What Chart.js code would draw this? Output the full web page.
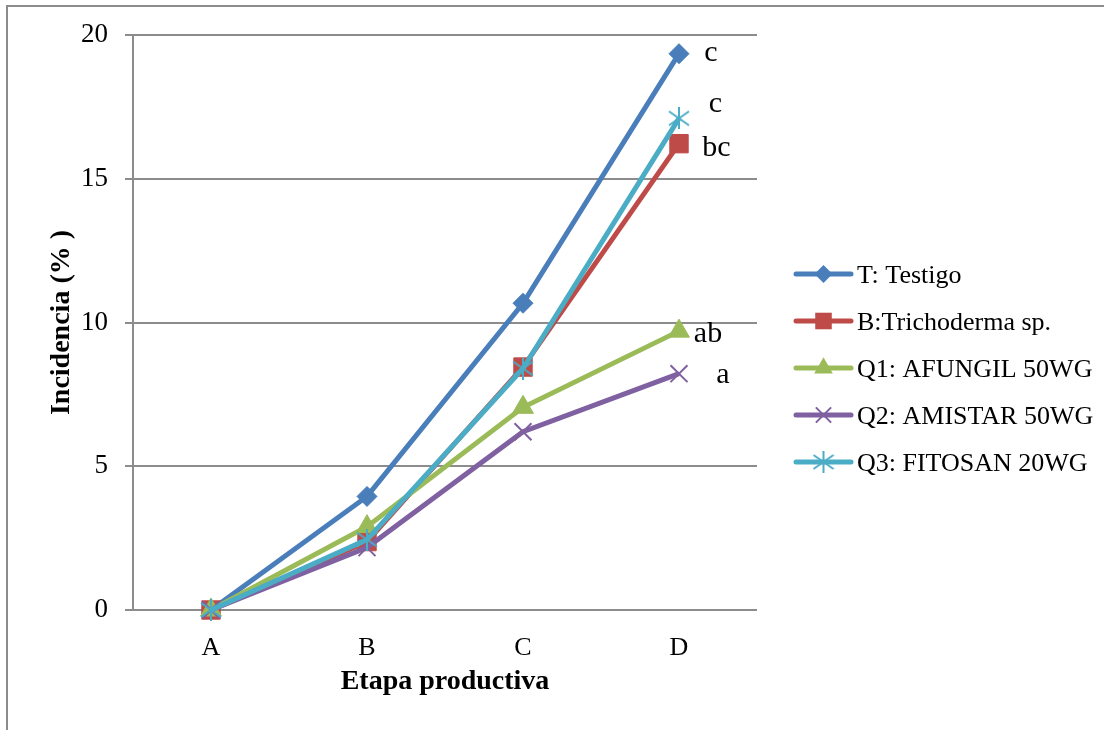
<!DOCTYPE html>
<html>
<head>
<meta charset="utf-8">
<script src="https://cdn.jsdelivr.net/npm/chart.js@4.4.0/dist/chart.umd.min.js"></script>
<style>
  html, body { margin: 0; padding: 0; background: #fff; }
  #c { display: block; }
</style>
</head>
<body>
<canvas id="c" width="1104" height="730"></canvas>
<script>
// ---- data ----
const categories = ['A', 'B', 'C', 'D'];
const seriesNames = ['T: Testigo', 'B:Trichoderma sp.', 'Q1: AFUNGIL 50WG', 'Q2: AMISTAR 50WG', 'Q3: FITOSAN 20WG'];
const testigo     = [0, 3.95, 10.67, 19.35];
const trichoderma = [0, 2.38, 8.45, 16.22];
const afungil     = [0, 2.9, 7.05, 9.7];
const amistar     = [0, 2.17, 6.2, 8.22];
const fitosan     = [0, 2.45, 8.4, 17.1];
const letterLabels = ['c', 'bc', 'ab', 'a', 'c'];
const yMin = 0, yMax = 20, yStep = 5;

// ---- styles ----
const FONT = '"Liberation Serif", "Times New Roman", serif';
const colors = ['#4a7ebb', '#be4b48', '#9bbb59', '#7f60a0', '#4bacc6'];
const GRID = '#8c8c8c';

// custom asterisk marker for Q3
function makeAsterisk(color) {
  const cv = document.createElement('canvas');
  cv.width = 22; cv.height = 22;
  const g = cv.getContext('2d');
  g.strokeStyle = color; g.lineWidth = 2;
  g.beginPath();
  g.moveTo(11, 0); g.lineTo(11, 22);
  g.moveTo(1, 4); g.lineTo(21, 18);
  g.moveTo(1, 18); g.lineTo(21, 4);
  g.stroke();
  return cv;
}
const asterisk = makeAsterisk(colors[4]);

const valuesList = [testigo, trichoderma, afungil, amistar, fitosan];
const pointStyles = ['rectRot', 'rect', 'triangle', 'crossRot', asterisk];
const pointRadii = [10, 13, 12, 12, 11];
const pointBorders = [1, 1, 1, 2, 2];
const orders = [5, 4, 3, 2, 1];

const datasets = valuesList.map((vals, i) => ({
  label: seriesNames[i],
  data: vals,
  borderColor: colors[i],
  backgroundColor: colors[i],
  borderWidth: 5,
  pointStyle: pointStyles[i],
  pointRadius: pointRadii[i],
  pointHoverRadius: pointRadii[i],
  pointBorderWidth: pointBorders[i],
  pointBorderColor: colors[i],
  pointBackgroundColor: colors[i],
  tension: 0,
  clip: false,
  order: orders[i]
}));

// offsets of significance letters from the last point (center x, baseline y)
const letterOffsets = [[32, 7], [37.5, 12], [29, 11], [44, 9], [36.5, -6]];

const framePlugin = {
  id: 'frame',
  beforeDraw(chart) {
    const ctx = chart.ctx;
    ctx.save();
    ctx.fillStyle = '#fff';
    ctx.fillRect(0, 0, chart.width, chart.height);
    ctx.strokeStyle = GRID;
    ctx.lineWidth = 2;
    ctx.beginPath();
    ctx.moveTo(7, chart.height);
    ctx.lineTo(7, 6);
    ctx.lineTo(chart.width, 6);
    ctx.stroke();
    ctx.restore();
  }
};

const lettersPlugin = {
  id: 'letters',
  afterDatasetsDraw(chart) {
    const ctx = chart.ctx;
    ctx.save();
    ctx.fillStyle = '#000';
    ctx.font = '30px ' + FONT;
    ctx.textAlign = 'center';
    ctx.textBaseline = 'alphabetic';
    chart.data.datasets.forEach((ds, i) => {
      const meta = chart.getDatasetMeta(i);
      const last = meta.data[meta.data.length - 1];
      ctx.fillText(letterLabels[i], last.x + letterOffsets[i][0], last.y + letterOffsets[i][1]);
    });
    ctx.restore();
  }
};

function drawMarker(ctx, style, x, y, r, color) {
  ctx.save();
  ctx.fillStyle = color; ctx.strokeStyle = color;
  if (style instanceof HTMLCanvasElement) {
    ctx.drawImage(style, x - style.width / 2, y - style.height / 2);
  } else if (style === 'rectRot') {
    ctx.beginPath();
    ctx.moveTo(x, y - r); ctx.lineTo(x + r, y); ctx.lineTo(x, y + r); ctx.lineTo(x - r, y);
    ctx.closePath(); ctx.fill();
  } else if (style === 'rect') {
    const s = r * Math.SQRT1_2;
    ctx.fillRect(x - s, y - s, 2 * s, 2 * s);
  } else if (style === 'triangle') {
    ctx.beginPath();
    ctx.moveTo(x, y - r);
    ctx.lineTo(x + r * Math.sin(2 * Math.PI / 3), y + r / 2);
    ctx.lineTo(x - r * Math.sin(2 * Math.PI / 3), y + r / 2);
    ctx.closePath(); ctx.fill();
  } else if (style === 'crossRot') {
    const s = r * Math.SQRT1_2;
    ctx.lineWidth = 2;
    ctx.beginPath();
    ctx.moveTo(x - s, y - s); ctx.lineTo(x + s, y + s);
    ctx.moveTo(x - s, y + s); ctx.lineTo(x + s, y - s);
    ctx.stroke();
  }
  ctx.restore();
}

const legendPlugin = {
  id: 'sideLegend',
  afterDraw(chart) {
    const ctx = chart.ctx;
    const x0 = 796, x1 = 851, tx = 857, y0 = 274, dy = 47;
    chart.data.datasets.forEach((ds, i) => {
      const y = y0 + i * dy;
      ctx.save();
      ctx.strokeStyle = ds.borderColor;
      ctx.lineWidth = 5;
      ctx.lineCap = 'round';
      ctx.beginPath(); ctx.moveTo(x0, y); ctx.lineTo(x1, y); ctx.stroke();
      ctx.restore();
      drawMarker(ctx, ds.pointStyle, (x0 + x1) / 2, y, ds.pointRadius * 0.9, ds.borderColor);
      ctx.save();
      ctx.fillStyle = '#000';
      ctx.font = '26px ' + FONT;
      ctx.textAlign = 'left';
      ctx.textBaseline = 'alphabetic';
      ctx.fillText(ds.label, tx, y + 9);
      ctx.restore();
    });
  }
};

new Chart(document.getElementById('c'), {
  type: 'line',
  data: { labels: categories, datasets },
  options: {
    responsive: false,
    animation: false,
    events: [],
    layout: { padding: { left: 0, right: 347, top: 35, bottom: 0 } },
    plugins: { legend: { display: false }, tooltip: { enabled: false } },
    scales: {
      x: {
        type: 'category',
        offset: true,
        grid: { display: false, drawTicks: false },
        border: { display: false },
        ticks: { color: '#000', font: { family: FONT, size: 26 }, padding: 23 },
        title: {
          display: true, text: 'Etapa productiva', color: '#000',
          font: { family: FONT, size: 28, weight: 'bold' },
          padding: { top: 0, bottom: 31 }
        },
        afterFit(s) { s.height = 120; }
      },
      y: {
        min: yMin, max: yMax,
        ticks: { stepSize: yStep, color: '#000', font: { family: FONT, size: 27 }, padding: 17 },
        grid: { color: GRID, lineWidth: 2, drawTicks: true, tickLength: 8 },
        border: { display: true, color: GRID, width: 2 },
        title: {
          display: true, text: 'Incidencia (% )', color: '#000',
          font: { family: FONT, size: 28, weight: 'bold' },
          padding: { top: 45, bottom: 0 }
        },
        afterFit(s) { s.width = 133; }
      }
    }
  },
  plugins: [framePlugin, lettersPlugin, legendPlugin]
});
</script>
</body>
</html>
